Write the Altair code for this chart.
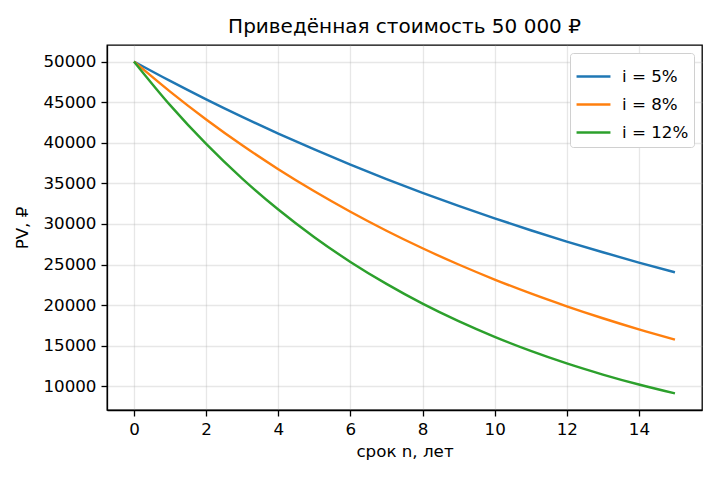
import altair as alt
import pandas as pd

years = list(range(16))
pv_5 = [50000, 47620, 45350, 43190, 41140, 39180, 37310, 35530, 33840, 32230, 30700, 29230, 27840, 26520, 25250, 24050]
pv_8 = [50000, 46300, 42870, 39690, 36750, 34030, 31510, 29170, 27010, 25010, 23160, 21440, 19860, 18390, 17020, 15760]
pv_12 = [50000, 44640, 39860, 35590, 31780, 28370, 25330, 22620, 20190, 18030, 16100, 14370, 12830, 11460, 10230, 9135]
series_names = ["i = 5%", "i = 8%", "i = 12%"]
colors = ["#1f77b4", "#ff7f0e", "#2ca02c"]
x_ticks = [0, 2, 4, 6, 8, 10, 12, 14]
y_ticks = [10000, 15000, 20000, 25000, 30000, 35000, 40000, 45000, 50000]

rows = []
for name, vals in zip(series_names, [pv_5, pv_8, pv_12]):
    for n, v in zip(years, vals):
        rows.append({"n": n, "pv": v, "series": name})
df = pd.DataFrame(rows)

FONT = "DejaVu Sans"
FS = 16.7

chart = alt.Chart(df).mark_line(strokeWidth=2.4, interpolate="monotone").encode(
    x=alt.X("n:Q", title="срок n, лет",
            scale=alt.Scale(domain=[-0.75, 15.75], nice=False, zero=False),
            axis=alt.Axis(values=x_ticks, format="d")),
    y=alt.Y("pv:Q", title="PV, ₽",
            scale=alt.Scale(domain=[7092, 52043], nice=False, zero=False),
            axis=alt.Axis(values=y_ticks, format="d")),
    color=alt.Color("series:N", sort=series_names,
                    scale=alt.Scale(domain=series_names, range=colors),
                    legend=alt.Legend(title=None, orient="top-right", offset=8,
                                      symbolType="stroke", symbolSize=1150,
                                      symbolStrokeWidth=2.4, labelFontSize=FS,
                                      labelFont=FONT, labelColor="black",
                                      rowPadding=0,
                                      strokeColor="#d0d0d0", fillColor="white",
                                      padding=5, cornerRadius=3,
                                      labelOffset=10)),
    detail="series:N",
).properties(
    width=595, height=365,
    title=alt.TitleParams("Приведённая стоимость 50 000 ₽", fontSize=20,
                          fontWeight="normal", font=FONT, offset=8, color="black"),
).configure(
    autosize=alt.AutoSizeParams(type="none"),
    padding={"left": 107, "top": 45, "right": 18, "bottom": 70},
    background="white",
).configure_view(
    stroke="black", strokeWidth=1.3,
).configure_axis(
    domainColor="black", domainWidth=1.3,
    tickColor="black", tickSize=6, tickWidth=1.3,
    labelFont=FONT, labelFontSize=FS, labelColor="black", labelPadding=5,
    titleFont=FONT, titleFontSize=FS, titleFontWeight="normal", titleColor="black",
    grid=True, gridColor="#b0b0b0", gridOpacity=0.3, gridWidth=1.3,
).configure_axisY(titlePadding=11).configure_axisX(titlePadding=6)

chart.save("out.html", embed_options={"renderer": "svg", "actions": False})
